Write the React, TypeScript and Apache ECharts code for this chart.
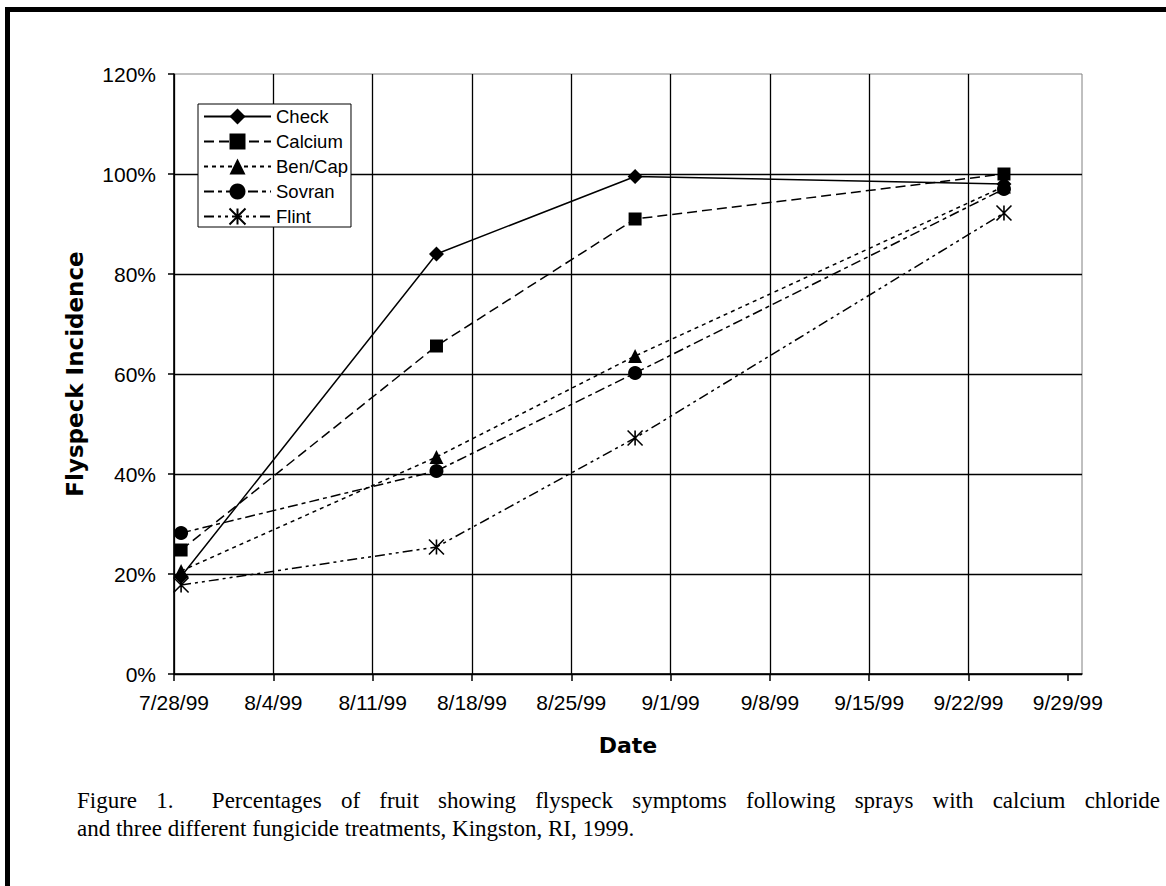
import React, { useEffect, useRef } from 'react';
import * as echarts from 'echarts';

// ---------- data ----------
const axisStart = '1999-07-28';
const axisEnd = '1999-09-30';
const sampleDates = ['1999-07-28', '1999-08-15', '1999-08-29', '1999-09-24'];
const tickLabels = ['7/28/99', '8/4/99', '8/11/99', '8/18/99', '8/25/99', '9/1/99', '9/8/99', '9/15/99', '9/22/99', '9/29/99'];
const seriesNames = ['Check', 'Calcium', 'Ben/Cap', 'Sovran', 'Flint'];
const check = [0.195, 0.84, 0.995, 0.98];
const calcium = [0.248, 0.656, 0.91, 1.0];
const benCap = [0.206, 0.434, 0.636, 0.975];
const sovran = [0.282, 0.406, 0.602, 0.97];
const flint = [0.178, 0.254, 0.472, 0.922];
const captionLine1 = 'Figure 1.  Percentages of fruit showing flyspeck symptoms following sprays with calcium chloride';
const captionLine2 = 'and three different fungicide treatments, Kingston, RI, 1999.';

// ---------- helpers ----------
const DAY = 86400000;
const parseIso = (s: string) => {
  const [y, m, d] = s.split('-').map(Number);
  return Date.UTC(y, m - 1, d);
};
const parseTick = (s: string) => {
  const [m, d, y] = s.split('/').map(Number);
  return Date.UTC(1900 + y, m - 1, d);
};
const origin = parseIso(axisStart);
const toDay = (t: number) => Math.round((t - origin) / DAY);
const tickDays = tickLabels.map((l) => toDay(parseTick(l)));
const maxDay = toDay(parseIso(axisEnd));
// Excel date axis places each point in the middle of its day
const pointDays = sampleDates.map((d) => toDay(parseIso(d)) + 0.5);

const seriesValues = [check, calcium, benCap, sovran, flint];
const seriesSymbols = ['diamond', 'rect', 'triangle', 'circle', 'path://M0 0L10 10M10 0L0 10M5 0L5 10'];
const seriesSymbolSizes = [15, 13, 14, 14, 15];
const seriesDash: any[] = ['solid', [10, 5], [4, 4], [10, 4, 4, 4], [10, 4, 3, 4, 3, 4]];

const FONT = 'Liberation Sans';
const SERIF = 'Liberation Serif';

function justifiedWords(text: string, x0: number, x1: number, y: number, font: string) {
  const canvas = document.createElement('canvas');
  const ctx = canvas.getContext('2d')!;
  ctx.font = font;
  const tokens = text.split(' ');
  const widths = tokens.map((t) => ctx.measureText(t).width);
  const total = widths.reduce((a, b) => a + b, 0);
  const gap = (x1 - x0 - total) / (tokens.length - 1);
  const out: any[] = [];
  let x = x0;
  tokens.forEach((t, i) => {
    if (t.length > 0) {
      out.push({
        type: 'text',
        x,
        y,
        style: { text: t, font, fill: '#000', textVerticalAlign: 'middle' },
      });
    }
    x += widths[i] + gap;
  });
  return out;
}

export default function App() {
  const ref = useRef<HTMLDivElement>(null);
  useEffect(() => {
    document.body.style.margin = '0';
    document.body.style.overflow = 'hidden';
    const chart = echarts.init(ref.current!, undefined, { renderer: 'svg' });
    const captionFont = `23px "${SERIF}"`;
    const option: any = {
      animation: false,
      backgroundColor: '#fff',
      grid: {
        left: 174,
        top: 74,
        right: 84,
        bottom: 212,
        show: true,
        borderColor: '#808080',
        borderWidth: 1,
        backgroundColor: 'transparent',
      },
      legend: {
        orient: 'vertical',
        left: 198,
        top: 104,
        itemWidth: 67,
        itemHeight: 20,
        itemGap: 6,
        padding: [3, 3, 1, 5],
        borderColor: '#000',
        borderWidth: 1,
        backgroundColor: '#fff',
        textStyle: { fontFamily: FONT, fontSize: 18.5, color: '#000' },
        data: seriesNames,
        z: 10,
      },
      xAxis: {
        type: 'value',
        min: 0,
        max: maxDay,
        interval: 7,
        axisLine: { show: true, onZero: false, lineStyle: { color: '#000', width: 1.5 } },
        axisTick: { show: true, inside: false, length: 7, customValues: tickDays, lineStyle: { color: '#000', width: 1.5 } },
        axisLabel: {
          customValues: tickDays,
          formatter: (v: number) => {
            const i = tickDays.indexOf(Math.round(v));
            return i >= 0 ? tickLabels[i] : '';
          },
          margin: 18,
          color: '#000',
          fontFamily: FONT,
          fontSize: 21,
        },
        splitLine: { show: true, showMaxLine: false, lineStyle: { color: '#000', width: 1.3 } },
        name: 'Date',
        nameLocation: 'middle',
        nameGap: 60,
        nameTextStyle: { fontFamily: 'DejaVu Sans', fontWeight: 'bold', fontSize: 22, color: '#000' },
      },
      yAxis: {
        type: 'value',
        min: 0,
        max: 1.2,
        interval: 0.2,
        axisLine: { show: true, lineStyle: { color: '#000', width: 1.5 } },
        axisTick: { show: true, inside: false, length: 6, lineStyle: { color: '#000', width: 1.5 } },
        axisLabel: {
          formatter: (v: number) => Math.round(v * 100) + '%',
          margin: 18,
          color: '#000',
          fontFamily: FONT,
          fontSize: 21,
        },
        splitLine: { show: true, showMaxLine: false, lineStyle: { color: '#000', width: 1.3 } },
        name: 'Flyspeck Incidence',
        nameLocation: 'middle',
        nameRotate: 90,
        nameGap: 88,
        nameTextStyle: { fontFamily: 'DejaVu Sans', fontWeight: 'bold', fontSize: 23, color: '#000' },
      },
      series: seriesNames.map((name, si) => ({
        name,
        type: 'line',
        silent: true,
        data: pointDays.map((x, i) => [x, seriesValues[si][i]]),
        symbol: seriesSymbols[si],
        symbolSize: seriesSymbolSizes[si],
        showAllSymbol: true,
        lineStyle: { color: '#000', width: 1.5, type: seriesDash[si] },
        itemStyle: si === 4 ? { color: '#000', borderColor: '#000', borderWidth: 1.6 } : { color: '#000' },
        emphasis: { disabled: true },
        z: 5 - si,
      })),
      graphic: [
        { type: 'rect', shape: { x: 5, y: 7, width: 1200, height: 5 }, style: { fill: '#000' } },
        { type: 'rect', shape: { x: 5, y: 7, width: 5, height: 900 }, style: { fill: '#000' } },
        ...justifiedWords(captionLine1, 77, 1160, 800, captionFont),
        {
          type: 'text',
          x: 77,
          y: 828,
          style: { text: captionLine2, font: captionFont, fill: '#000', textVerticalAlign: 'middle' },
        },
      ],
    };
    chart.setOption(option);
    return () => chart.dispose();
  }, []);
  return <div ref={ref} style={{ width: 1166, height: 886 }} />;
}
